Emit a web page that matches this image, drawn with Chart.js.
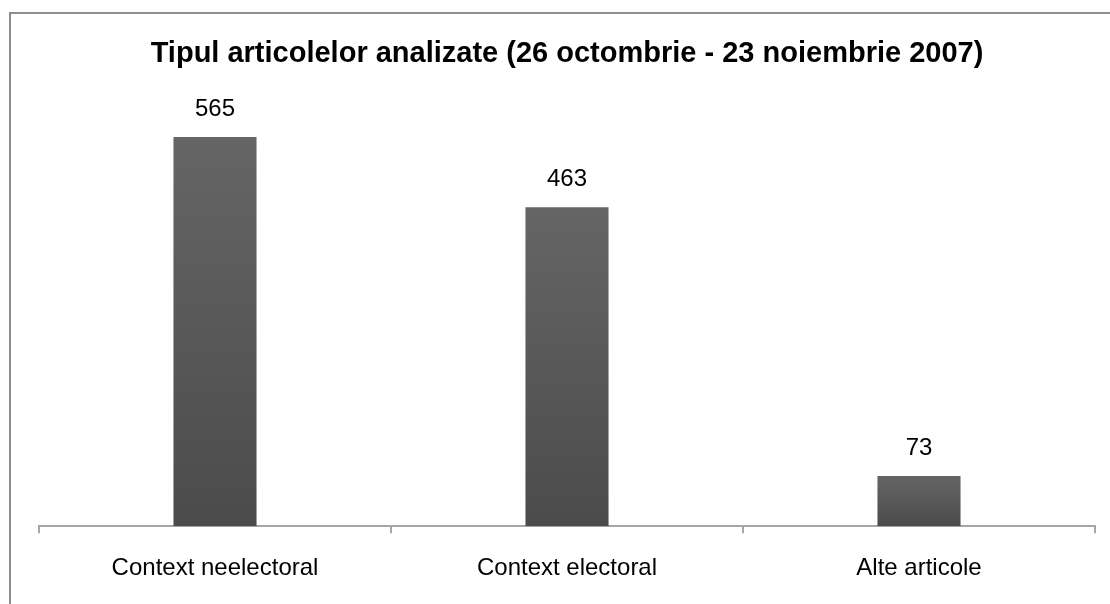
<!DOCTYPE html>
<html>
<head>
<meta charset="utf-8">
<script src="https://cdn.jsdelivr.net/npm/chart.js@4"></script>
<style>
    body { margin: 0; background: #fff; }
    #frame { position: absolute; left: 9px; top: 12px; width: 1110px; height: 600px; border-left: 2px solid #8e8e8e; border-top: 2px solid #8e8e8e; }
    #wrap { position: absolute; left: 0; top: 0; width: 1110px; height: 604px; }
</style>
</head>
<body>
<div id="frame"></div>
<div id="wrap"><canvas id="chart"></canvas></div>
<script>
const categories = ['Context neelectoral', 'Context electoral', 'Alte articole']
const counts = [565, 463, 73]
const chartTitle = 'Tipul articolelor analizate (26 octombrie - 23 noiembrie 2007)'
const fontFamily = '"Liberation Sans", Arial, sans-serif'

// value labels above each bar
const valueLabels = {
    id: 'valueLabels',
    afterDatasetsDraw(chart) {
        const ctx = chart.ctx
        const meta = chart.getDatasetMeta(0)
        ctx.save()
        ctx.font = '24px ' + fontFamily
        ctx.fillStyle = '#000'
        ctx.textAlign = 'center'
        ctx.textBaseline = 'middle'
        meta.data.forEach(function(bar, i) {
            ctx.fillText(counts[i], bar.x, bar.y - 28)
        })
        ctx.restore()
    }
}

function barFill(context) {
    const chart = context.chart
    const area = chart.chartArea
    if (!area) return '#5a5a5a'
    const yScale = chart.scales.y
    const top = yScale.getPixelForValue(counts[context.dataIndex])
    const g = chart.ctx.createLinearGradient(0, top, 0, yScale.getPixelForValue(0))
    g.addColorStop(0, '#656565')
    g.addColorStop(1, '#4b4b4b')
    return g
}

new Chart(document.getElementById('chart'), {
    type: 'bar',
    data: {
        labels: categories,
        datasets: [{
            data: counts,
            backgroundColor: barFill,
            borderWidth: 0,
            categoryPercentage: 1,
            barPercentage: 0.236
        }]
    },
    options: {
        responsive: true,
        maintainAspectRatio: false,
        animation: false,
        layout: { padding: { left: 39, right: 15, top: 0, bottom: 0 } },
        plugins: {
            legend: { display: false },
            tooltip: { enabled: false },
            title: {
                display: true,
                text: chartTitle,
                color: '#000',
                font: { family: fontFamily, size: 29, weight: 'bold' },
                padding: { top: 37, bottom: 41 }
            }
        },
        scales: {
            x: {
                offset: true,
                grid: { offset: true, drawOnChartArea: false, drawTicks: true, tickLength: 7, color: '#a6a6a6', lineWidth: 2 },
                border: { display: true, color: '#a6a6a6', width: 2 },
                ticks: { color: '#000', font: { family: fontFamily, size: 24 }, padding: 21 }
            },
            y: {
                display: false,
                min: 0,
                max: 600
            }
        }
    },
    plugins: [valueLabels]
})
</script>
</body>
</html>
